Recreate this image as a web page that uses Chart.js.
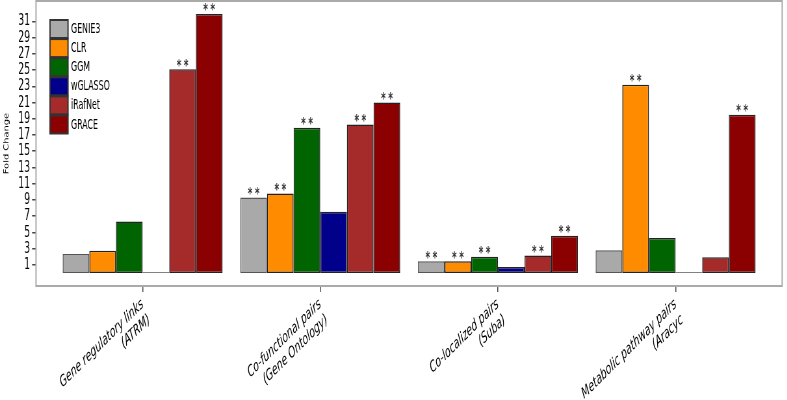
<!DOCTYPE html>
<html>
<head>
<meta charset="utf-8">
<script src="https://cdn.jsdelivr.net/npm/chart.js@4/dist/chart.umd.min.js"></script>
<style>
    html, body { margin: 0; padding: 0; background: #fff; overflow: hidden; width: 787px; height: 400px; }
    /* the reference figure is squashed sideways, so draw wide and squeeze */
    #wrap { width: 1211px; height: 400px; transform: scaleX(0.65); transform-origin: 0 0; }
</style>
</head>
<body>
<div id="wrap"><canvas id="chart"></canvas></div>
<script>
// groups on the x axis (two lines each)
var categories = [
    ["Gene regulatory links", "(ATRM)"],
    ["Co-functional pairs", "(Gene Ontology)"],
    ["Co-localized pairs", "(Suba)"],
    ["Metabolic pathway pairs", "(Aracyc"]
]
var methods = ["GENIE3", "CLR", "GGM", "wGLASSO", "iRafNet", "GRACE"]
var colors = ["#a9a9a9", "#ff8c00", "#006400", "#00008b", "#a52a2a", "#8b0000"]

// fold change per method, one value per group
var genie3  = [2.35, 9.3, 1.45, 2.8]
var clr     = [2.75, 9.8, 1.45, 23.2]
var ggm     = [6.35, 17.9, 2.0, 4.3]
var wglasso = [0.1, 7.55, 0.75, 0.1]
var irafnet = [25.1, 18.3, 2.15, 1.95]
var grace   = [31.9, 21.0, 4.6, 19.5]

// "**" significance marks
var genie3Stars  = [false, true, true, false]
var clrStars     = [false, true, true, true]
var ggmStars     = [false, true, true, false]
var wglassoStars = [false, false, false, false]
var irafnetStars = [true, true, true, false]
var graceStars   = [true, true, true, true]

var yTicks = [1, 3, 5, 7, 9, 11, 13, 15, 17, 19, 21, 23, 25, 27, 29, 31]

var sx = 0.65   // horizontal squeeze, see css
var values = [genie3, clr, ggm, wglasso, irafnet, grace]
var stars = [genie3Stars, clrStars, ggmStars, wglassoStars, irafnetStars, graceStars]
var font = '"DejaVu Sans Condensed", "DejaVu Sans", sans-serif'

var datasets = methods.map((m, i) => ({
    label: m,
    data: values[i],
    backgroundColor: colors[i],
    borderColor: i == 0 ? "#555" : "#222",
    borderWidth: 1.5,
    borderSkipped: false,
    stars: stars[i]
}))

var framePlugin = {
    id: 'frame',
    afterDraw(chart) {
        var ctx = chart.ctx
        var a = chart.chartArea
        ctx.save()
        ctx.strokeStyle = "#aaa"
        ctx.lineWidth = 2
        ctx.strokeRect(a.left, a.top, a.right - a.left, a.bottom - a.top)

        // stars on bars
        ctx.fillStyle = "#333"
        ctx.font = "bold 15px " + font
        ctx.textAlign = "center"
        ctx.textBaseline = "bottom"
        chart.data.datasets.forEach((ds, i) => {
            var meta = chart.getDatasetMeta(i)
            meta.data.forEach((bar, j) => {
                if (!ds.stars[j]) return
                ctx.fillText("*", bar.x - 5.5, bar.y + 5)
                ctx.fillText("*", bar.x + 5.5, bar.y + 5)
            })
        })

        // legend inside the plot
        ctx.font = "13.5px " + font
        ctx.textAlign = "left"
        ctx.textBaseline = "middle"
        chart.data.datasets.forEach((ds, i) => {
            var y = 20 + i * 19.1
            var x = 50 / sx
            ctx.fillStyle = ds.backgroundColor
            ctx.fillRect(x, y, 18 / sx, 18)
            ctx.strokeStyle = "#333"
            ctx.lineWidth = 2
            ctx.strokeRect(x, y, 18 / sx, 18)
            ctx.fillStyle = "#000"
            ctx.fillText(ds.label, 71 / sx, y + 9.5)
        })
        ctx.restore()
    }
}

var ctx = document.getElementById("chart").getContext('2d')
var chart = new Chart(ctx, {
    type: 'bar',
    data: {
        labels: categories.map((c, i) => i),
        datasets: datasets
    },
    options: {
        responsive: true,
        maintainAspectRatio: false,
        animation: false,
        layout: { padding: { top: 1, right: 5 / sx } },
        categoryPercentage: 0.9,
        barPercentage: 1.0,
        plugins: {
            legend: { display: false },
            tooltip: { enabled: false }
        },
        scales: {
            x: {
                type: 'linear',
                offset: false,
                min: -0.6,
                max: 3.6,
                afterBuildTicks: (scale) => {
                    scale.ticks = categories.map((c, i) => ({ value: i }))
                },
                afterFit: (scale) => { scale.height = 114 },
                ticks: {
                    autoSkip: false,
                    minRotation: 33,
                    maxRotation: 33,
                    padding: 3,
                    color: "#000",
                    font: { family: font, size: 15.5, style: 'italic' },
                    callback: (v) => categories[v]
                },
                grid: { drawOnChartArea: false, offset: false, tickLength: 6, color: "#444", lineWidth: 1.5 },
                border: { display: false }
            },
            y: {
                min: -1.6,
                max: 33.5,
                afterBuildTicks: (scale) => {
                    scale.ticks = yTicks.map(v => ({ value: v }))
                },
                afterFit: (scale) => {
                    scale.width = 36 / sx
                    scale.paddingTop = 0
                    scale.paddingBottom = 0
                },
                ticks: {
                    autoSkip: false,
                    padding: 3,
                    color: "#000",
                    font: { family: font, size: 16 }
                },
                title: {
                    display: true,
                    text: "Fold Change",
                    color: "#000",
                    padding: { top: 4, bottom: 0 },
                    font: { family: font, size: 11 }
                },
                grid: { drawOnChartArea: false, tickLength: 6, color: "#444", lineWidth: 1.5 },
                border: { display: false }
            }
        }
    },
    plugins: [framePlugin]
})
</script>
</body>
</html>
